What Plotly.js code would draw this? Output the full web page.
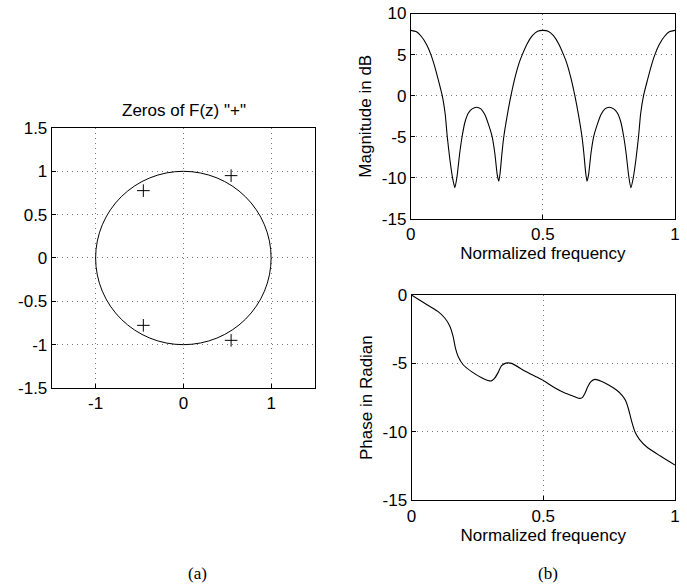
<!DOCTYPE html>
<html>
<head>
<meta charset="utf-8">
<script src="https://cdn.plot.ly/plotly-3.0.1.min.js"></script>
<style>html,body{margin:0;padding:0;background:#fff;}#plot{width:687px;height:587px;}</style>
</head>
<body>
<div id="plot"></div>
<script>
// Zeros of F(z)
const zeroRe = [-0.456, -0.456, 0.544, 0.544];
const zeroIm = [0.777, -0.777, 0.95, -0.95];

// Magnitude response (dB) vs normalized frequency
const magFreq = [0, 0.02, 0.04, 0.06, 0.076, 0.09, 0.105, 0.119, 0.13, 0.138, 0.148, 0.158, 0.1667, 0.175, 0.185, 0.194, 0.205, 0.218, 0.232, 0.249, 0.265, 0.28, 0.293, 0.308, 0.318, 0.327, 0.333, 0.338, 0.345, 0.352, 0.365, 0.379, 0.395, 0.41, 0.422, 0.44, 0.46, 0.48, 0.5,
  0.52, 0.54, 0.56, 0.578, 0.59, 0.605, 0.621, 0.635, 0.648, 0.655, 0.662, 0.667, 0.673, 0.682, 0.692, 0.707, 0.72, 0.735, 0.751, 0.768, 0.782, 0.795, 0.806, 0.815, 0.825, 0.833, 0.842, 0.852, 0.862, 0.87, 0.881, 0.895, 0.91, 0.924, 0.94, 0.96, 0.98, 1.0];
const magDb = [7.95, 7.8, 7.2, 6.2, 5.0, 3.6, 1.8, 0.0, -2.2, -5.0, -7.8, -10.0, -11.2, -9.8, -7.0, -5.0, -3.2, -2.1, -1.6, -1.4, -1.6, -2.3, -3.4, -5.0, -7.0, -9.6, -10.4, -9.4, -7.0, -5.0, -2.4, 0.0, 2.3, 4.0, 5.0, 6.3, 7.3, 7.85, 7.95,
  7.85, 7.3, 6.3, 5.0, 4.0, 2.3, 0.0, -2.4, -5.0, -7.0, -9.4, -10.4, -9.6, -7.0, -5.0, -3.4, -2.3, -1.6, -1.4, -1.6, -2.1, -3.2, -5.0, -7.0, -9.8, -11.2, -10.0, -7.8, -5.0, -2.2, 0.0, 1.8, 3.6, 5.0, 6.2, 7.2, 7.8, 7.95];

// Phase response (radian) vs normalized frequency
const phFreq = [0, 0.05, 0.1, 0.127, 0.146, 0.158, 0.167, 0.177, 0.196, 0.228, 0.266, 0.29, 0.303, 0.315, 0.327, 0.342, 0.358, 0.38, 0.43, 0.47, 0.5, 0.54, 0.58, 0.614, 0.637, 0.648, 0.658, 0.668, 0.68, 0.696, 0.72, 0.75, 0.778, 0.8, 0.812, 0.823, 0.836, 0.848, 0.865, 0.892, 0.943, 1.0];
const phRad = [0, -0.6, -1.2, -1.7, -2.3, -3.05, -3.9, -4.5, -5.1, -5.6, -6.05, -6.25, -6.28, -6.1, -5.73, -5.17, -4.98, -5.0, -5.56, -5.95, -6.25, -6.75, -7.15, -7.4, -7.56, -7.5, -7.2, -6.75, -6.35, -6.17, -6.3, -6.6, -6.95, -7.35, -7.7, -8.3, -9.27, -10.0, -10.56, -11.1, -11.76, -12.44];

const xTicksZ = [-1, 0, 1];
const yTicksZ = [-1.5, -1, -0.5, 0, 0.5, 1, 1.5];
const freqTicks = [0, 0.5, 1];
const magTicks = [-15, -10, -5, 0, 5, 10];
const phTicks = [-15, -10, -5, 0];

const FONT = 'Liberation Sans, Arial, Helvetica, sans-serif';
const fnt = {family: FONT, size: 17, color: '#000'};

function ax(extra) {
  return Object.assign({
    showline: true, mirror: true, linecolor: '#000', linewidth: 1,
    ticks: 'inside', ticklen: 4, tickcolor: '#000',
    showgrid: true, gridcolor: '#777', griddash: '1px,4px', gridwidth: 1,
    zeroline: false, tickfont: fnt, fixedrange: true, tickmode: 'array'
  }, extra);
}

const traces = [
  {x: zeroRe, y: zeroIm, xaxis: 'x', yaxis: 'y', mode: 'markers', type: 'scatter',
   marker: {symbol: 'cross-thin', size: 9, line: {width: 1, color: '#000'}, color: '#000'}},
  {x: magFreq, y: magDb, xaxis: 'x2', yaxis: 'y2', mode: 'lines', type: 'scatter',
   line: {color: '#000', width: 1.1, shape: 'spline', smoothing: 0.6}},
  {x: phFreq, y: phRad, xaxis: 'x3', yaxis: 'y3', mode: 'lines', type: 'scatter',
   line: {color: '#000', width: 1.1, shape: 'spline', smoothing: 0.6}}
];

const layout = {
  width: 687, height: 587,
  margin: {l: 0, r: 0, t: 0, b: 0},
  paper_bgcolor: '#fff', plot_bgcolor: '#fff',
  showlegend: false,
  font: fnt,
  xaxis: ax({domain: [0.0753, 0.4585], range: [-1.5, 1.5], tickvals: xTicksZ, ticktext: xTicksZ.map(String), anchor: 'y'}),
  yaxis: ax({domain: [0.339, 0.782], range: [-1.5, 1.5], tickvals: yTicksZ, ticktext: yTicksZ.map(String), anchor: 'x'}),
  xaxis2: ax({domain: [0.598, 0.9825], range: [0, 1], tickvals: freqTicks, ticktext: freqTicks.map(String), anchor: 'y2',
    title: {text: 'Normalized frequency', font: fnt, standoff: 3}}),
  yaxis2: ax({domain: [0.627, 0.977], range: [-15, 10], tickvals: magTicks, ticktext: magTicks.map(String), anchor: 'x2',
    title: {text: 'Magnitude in dB', font: fnt, standoff: 5}}),
  xaxis3: ax({domain: [0.599, 0.9825], range: [0, 1], tickvals: freqTicks, ticktext: freqTicks.map(String), anchor: 'y3',
    title: {text: 'Normalized frequency', font: fnt, standoff: 3}}),
  yaxis3: ax({domain: [0.148, 0.4974], range: [-15, 0], tickvals: phTicks, ticktext: phTicks.map(String), anchor: 'x3',
    title: {text: 'Phase in Radian', font: fnt, standoff: 5}}),
  shapes: [
    {type: 'circle', xref: 'x', yref: 'y', x0: -1, x1: 1, y0: -1, y1: 1, line: {color: '#000', width: 1}}
  ],
  annotations: [
    {text: 'Zeros of F(z) "+"', xref: 'paper', yref: 'paper', x: 184 / 687, y: 1 - 110 / 587,
     xanchor: 'center', yanchor: 'middle', showarrow: false, font: fnt},
    {text: '(a)', xref: 'paper', yref: 'paper', x: 197 / 687, y: 1 - 573 / 587,
     xanchor: 'center', yanchor: 'middle', showarrow: false, font: {family: 'Liberation Serif, Times New Roman, serif', size: 17, color: '#000'}},
    {text: '(b)', xref: 'paper', yref: 'paper', x: 548 / 687, y: 1 - 573 / 587,
     xanchor: 'center', yanchor: 'middle', showarrow: false, font: {family: 'Liberation Serif, Times New Roman, serif', size: 17, color: '#000'}}
  ]
};

Plotly.newPlot('plot', traces, layout, {staticPlot: true, displayModeBar: false});
</script>
</body>
</html>
